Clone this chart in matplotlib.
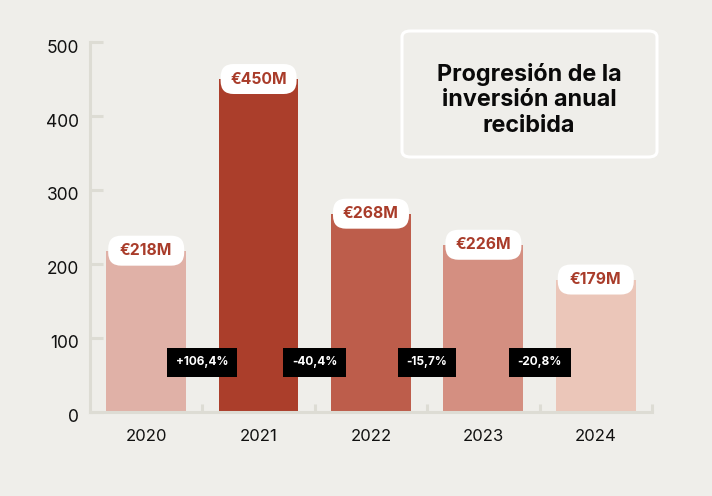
import matplotlib
matplotlib.use("Agg")
import matplotlib.pyplot as plt
from matplotlib.patches import FancyBboxPatch
from matplotlib.transforms import ScaledTranslation

years = ["2020", "2021", "2022", "2023", "2024"]
values = [218, 450, 268, 226, 179]
value_labels = ["€218M", "€450M", "€268M", "€226M", "€179M"]
changes = ["+106,4%", "-40,4%", "-15,7%", "-20,8%"]
bar_colors = ["#e0b1a7", "#ab3e2b", "#bd5d4b", "#d48f81", "#ebc6b9"]
title = "Progresión de la\ninversión anual\nrecibida"

BG = "#efeeea"
AX = "#dddcd4"
FONT = ["Inter", "DejaVu Sans"]
plt.rcParams["font.family"] = FONT

fig = plt.figure(figsize=(7.12, 4.96), dpi=100, facecolor=BG)
ax = fig.add_axes([0.1264, 0.1694, 0.7893, 0.7459], facecolor=BG)

x = list(range(len(years)))
ax.bar(x, values, width=0.71, color=bar_colors, zorder=2)

ax.set_xlim(-0.5, 4.5)
ax.set_ylim(0, 500)
ax.set_yticks([0, 100, 200, 300, 400, 500])
ax.set_xticks(x)
ax.set_xticklabels(years)
for s in ["top", "right"]:
    ax.spines[s].set_visible(False)
for s in ["left", "bottom"]:
    ax.spines[s].set_color(AX)
    ax.spines[s].set_linewidth(2.2)
ax.tick_params(axis="y", direction="in", length=9, width=2.2, color=AX,
               labelsize=12.5, pad=8, labelcolor="#111111")
ax.tick_params(axis="x", length=0, labelsize=12, pad=12, labelcolor="#111111")
ax.set_xticks([i + 0.5 for i in range(len(years))], minor=True)
ax.tick_params(axis="x", which="minor", direction="in", length=6, width=2.2, color=AX)
off = ScaledTranslation(0, -4 / 100, fig.dpi_scale_trans)
for lbl in ax.get_yticklabels():
    lbl.set_transform(lbl.get_transform() + off)

# pixel -> data scales
px_x = 1 / 112.4
px_y = 500 / 370
bw, bh, r = 76 * px_x, 30 * px_y, 13 * px_x
aspect = px_y / px_x
for xi, v, lab in zip(x, values, value_labels):
    p = FancyBboxPatch((xi - bw / 2, v - bh / 2), bw, bh,
                       boxstyle=f"round,pad=0,rounding_size={r}",
                       mutation_aspect=aspect, fc="white", ec="none", zorder=4)
    ax.add_patch(p)
    ax.text(xi, v, lab, ha="center", va="center", fontsize=11.3, fontweight="bold",
            color="#a93c2a", zorder=5)

for i, ch in enumerate(changes):
    ax.text(i + 0.5, 67, ch, ha="center", va="center", fontsize=8.5, fontweight="bold",
            color="white", zorder=5,
            bbox=dict(boxstyle="square,pad=0.75", fc="black", ec="none"))

box = FancyBboxPatch((402 / 712, 1 - 157 / 496), (657 - 402) / 712, (157 - 31) / 496,
                     boxstyle="round,pad=0,rounding_size=0.012", transform=fig.transFigure,
                     fc=BG, ec="white", lw=2.2, zorder=3)
fig.patches.append(box)
fig.text(529 / 712, 1 - 100 / 496, title, ha="center", va="center", fontsize=16.8,
         fontweight="bold", color="#0a0a0a", linespacing=1.22, zorder=4)

fig.savefig("out.png", dpi=100, facecolor=BG)
